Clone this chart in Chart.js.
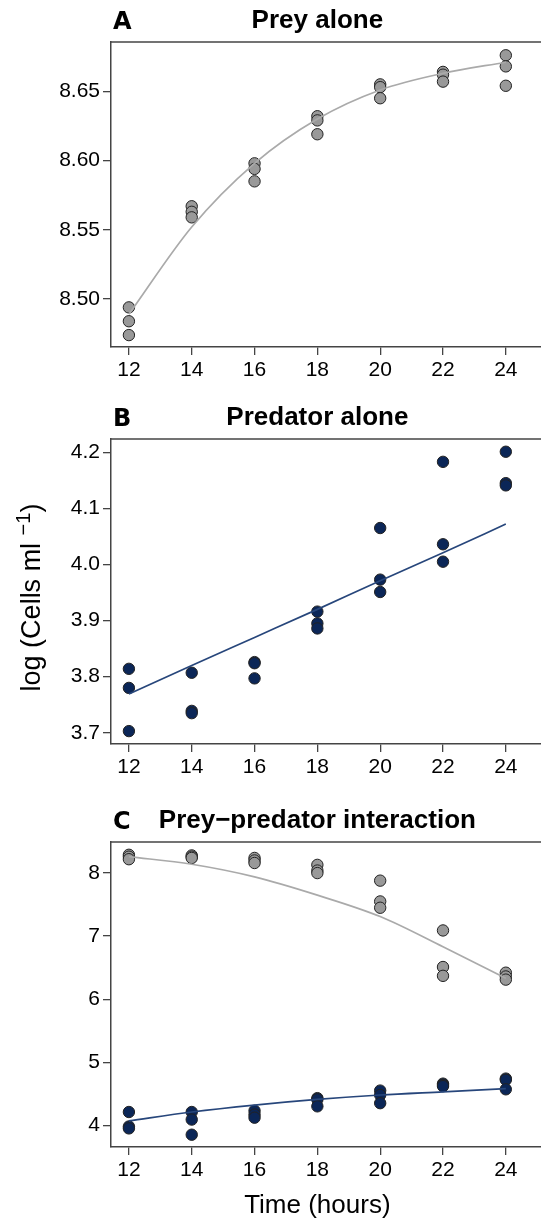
<!DOCTYPE html>
<html>
<head>
<meta charset="utf-8">
<script src="https://cdn.jsdelivr.net/npm/chart.js@4.4.0/dist/chart.umd.min.js"></script>
<style>
  html, body { margin: 0; padding: 0; background: #fff; overflow: hidden; }
  .panel { position: absolute; left: 0; width: 541px; }
</style>
</head>
<body>
<div class="panel" style="top:0px;height:387px"><canvas id="chartA"></canvas></div>
<div class="panel" style="top:397px;height:387px"><canvas id="chartB"></canvas></div>
<div class="panel" style="top:800px;height:422px"><canvas id="chartC"></canvas></div>
<script>
// hours of the fitted curves and the x ticks
const hours = [12, 14, 16, 18, 20, 22, 24];
// three replicates per sampling time
const sampleHours = [12, 12, 12, 14, 14, 14, 16, 16, 16, 18, 18, 18, 20, 20, 20, 22, 22, 22, 24, 24, 24];

// A - prey alone
const preyAlone = [8.494, 8.484, 8.474, 8.567, 8.563, 8.559, 8.598, 8.594, 8.585,
  8.632, 8.629, 8.619, 8.655, 8.653, 8.645, 8.664, 8.662, 8.657, 8.676, 8.668, 8.654];
const preyAloneFit = [8.489, 8.552, 8.598, 8.630, 8.651, 8.663, 8.671];
const ticksA = [8.50, 8.55, 8.60, 8.65];

// B - predator alone
const predAlone = [3.814, 3.780, 3.703, 3.807, 3.739, 3.735, 3.826, 3.824, 3.797,
  3.916, 3.895, 3.886, 4.065, 3.973, 3.951, 4.183, 4.036, 4.005, 4.201, 4.145, 4.141];
const predAloneFit = [3.769, 3.820, 3.870, 3.920, 3.971, 4.021, 4.072];
const ticksB = [3.7, 3.8, 3.9, 4.0, 4.1, 4.2];

// C - prey-predator interaction
const preyInter = [8.29, 8.26, 8.22, 8.28, 8.26, 8.24, 8.24, 8.20, 8.16,
  8.13, 8.04, 8.00, 7.88, 7.55, 7.45, 7.09, 6.51, 6.37, 6.42, 6.36, 6.31];
const preyInterFit = [8.26, 8.14, 7.94, 7.65, 7.31, 6.83, 6.33];
const predInter = [4.21, 3.98, 3.95, 4.21, 4.09, 3.85, 4.23, 4.17, 4.12,
  4.43, 4.41, 4.30, 4.55, 4.48, 4.35, 4.66, 4.64, 4.62, 4.74, 4.72, 4.57];
const predInterFit = [4.07, 4.21, 4.32, 4.41, 4.48, 4.53, 4.58];
const ticksC = [4, 5, 6, 7, 8];

const grey = '#999999', greyLine = '#aaaaaa';
const navy = '#0b2657', navyLine = '#27467b';
const axisColor = '#444444';
const sans = '"Liberation Sans", Arial, sans-serif';

// titles, panel letter, y title with superscript and the top frame line
const decor = {
  id: 'decor',
  afterDraw(chart, args, opts) {
    const { ctx, chartArea: a, scales: { x } } = chart;
    ctx.save();
    ctx.strokeStyle = axisColor;
    ctx.lineWidth = 1.5;
    ctx.beginPath();
    ctx.moveTo(a.left, a.top);
    ctx.lineTo(a.right, a.top);
    ctx.stroke();
    const mid = x.getPixelForValue((hours[0] + hours[hours.length - 1]) / 2);
    ctx.fillStyle = '#000';
    ctx.textBaseline = 'alphabetic';
    ctx.textAlign = 'left';
    ctx.font = 'bold 24px "DejaVu Sans"';
    ctx.fillText(opts.letter, a.left + 2, a.top - 13);
    ctx.textAlign = 'center';
    ctx.font = 'bold 26px ' + sans;
    ctx.fillText(opts.title, mid, a.top - 14);
    if (opts.xTitle) {
      ctx.font = '26px ' + sans;
      ctx.fillText(opts.xTitle, mid, a.bottom + 66);
    }
    if (opts.yTitle) {
      const main = '27px ' + sans, sup = '20px ' + sans;
      const parts = [[opts.yTitle[0], main, 0], [opts.yTitle[1], sup, -10], [opts.yTitle[2], main, 0]];
      let total = 0;
      parts.forEach(p => { ctx.font = p[1]; p.push(ctx.measureText(p[0]).width); total += p[3]; });
      ctx.translate(40, (a.top + a.bottom) / 2 + 6);
      ctx.rotate(-Math.PI / 2);
      ctx.textAlign = 'left';
      let pos = -total / 2;
      parts.forEach(p => { ctx.font = p[1]; ctx.fillText(p[0], pos, p[2]); pos += p[3]; });
    }
    ctx.restore();
  }
};

function axis(min, max, ticks, fmt, fit) {
  return {
    type: 'linear',
    min: min,
    max: max,
    afterBuildTicks: ax => { ax.ticks = ticks.map(v => ({ value: v })); },
    afterFit: fit,
    ticks: { font: { family: sans, size: 21 }, color: '#000', padding: 3, callback: fmt },
    grid: { drawOnChartArea: false, drawTicks: true, tickLength: 8, color: axisColor, lineWidth: 1.3 },
    border: { display: true, color: axisColor, width: 1.5 }
  };
}

function points(values, fill) {
  return {
    type: 'scatter',
    data: values.map((v, i) => ({ x: sampleHours[i], y: v })),
    backgroundColor: fill,
    borderColor: '#222',
    borderWidth: 1,
    pointRadius: 5.7,
    order: 2
  };
}

function curve(values, color) {
  return {
    type: 'line',
    data: values.map((v, i) => ({ x: hours[i], y: v })),
    borderColor: color,
    borderWidth: 1.7,
    pointRadius: 0,
    fill: false,
    cubicInterpolationMode: 'monotone',
    order: 1
  };
}

function makePanel(id, datasets, yMin, yMax, yTicks, fmt, decorOpts, padBottom) {
  new Chart(document.getElementById(id), {
    type: 'scatter',
    data: { datasets: datasets },
    options: {
      responsive: true,
      maintainAspectRatio: false,
      animation: false,
      layout: { autoPadding: false, padding: { top: 42, left: 0, right: 0, bottom: padBottom } },
      scales: {
        x: axis(11.43, 25.12, hours, v => v, ax => {
          ax.height = 40; ax.paddingLeft = 0; ax.paddingRight = 0;
        }),
        y: axis(yMin, yMax, yTicks, fmt, ax => {
          ax.width = 111; ax.paddingTop = 0; ax.paddingBottom = 0;
        })
      },
      plugins: {
        legend: { display: false },
        tooltip: { enabled: false },
        decor: decorOpts
      }
    },
    plugins: [decor]
  });
}

makePanel('chartA',
  [points(preyAlone, grey), curve(preyAloneFit, greyLine)],
  8.4654, 8.6856, ticksA, v => v.toFixed(2),
  { letter: 'A', title: 'Prey alone' }, 0);

makePanel('chartB',
  [points(predAlone, navy), curve(predAloneFit, navyLine)],
  3.68, 4.2237, ticksB, v => v.toFixed(1),
  { letter: 'B', title: 'Predator alone', yTitle: ['log (Cells ml ', '\u22121', ')'] }, 0);

makePanel('chartC',
  [points(preyInter, grey), curve(preyInterFit, greyLine),
   points(predInter, navy), curve(predInterFit, navyLine)],
  3.655, 8.493, ticksC, v => v,
  { letter: 'C', title: 'Prey\u2212predator interaction', xTitle: 'Time (hours)' }, 35);
</script>
</body>
</html>
